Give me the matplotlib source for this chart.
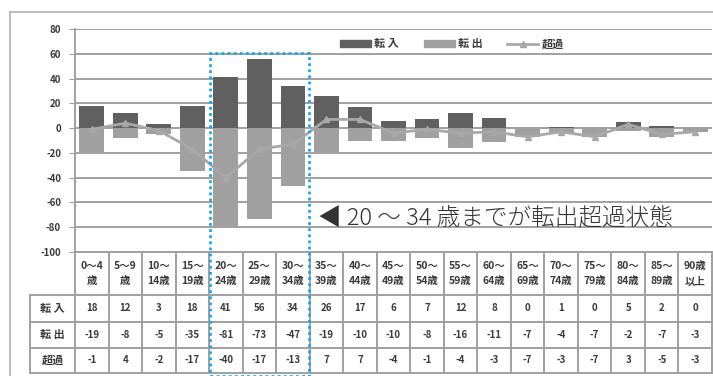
import matplotlib
matplotlib.use("Agg")
import matplotlib.pyplot as plt
from matplotlib.patches import Rectangle, Patch
from matplotlib.lines import Line2D

plt.rcParams['font.family'] = ['Noto Sans CJK JP', 'DejaVu Sans']

categories = ["0～4\n歳", "5～9\n歳", "10～\n14歳", "15～\n19歳", "20～\n24歳", "25～\n29歳",
              "30～\n34歳", "35～\n39歳", "40～\n44歳", "45～\n49歳", "50～\n54歳", "55～\n59歳",
              "60～\n64歳", "65～\n69歳", "70～\n74歳", "75～\n79歳", "80～\n84歳", "85～\n89歳",
              "90歳\n以上"]
tennyu = [18, 12, 3, 18, 41, 56, 34, 26, 17, 6, 7, 12, 8, 0, 1, 0, 5, 2, 0]
tenshutsu = [-19, -8, -5, -35, -81, -73, -47, -19, -10, -10, -8, -16, -11, -7, -4, -7, -2, -7, -3]
choka = [-1, 4, -2, -17, -40, -17, -13, 7, 7, -4, -1, -4, -3, -7, -3, -7, 3, -5, -3]
row_labels = ["転 入", "転 出", "超過"]
yticks = [80, 60, 40, 20, 0, -20, -40, -60, -80, -100]

W, H = 713, 376
fig = plt.figure(figsize=(W / 100, H / 100), dpi=100)

def fx(px):
    return px / W

def fy(py):
    return 1 - py / H

GRID = "#a0a0a0"
DARK = "#606060"
LIGHT = "#a0a0a0"
LINEC = "#a8a8a8"
TXT = "#3a3a3a"

# outer frame
fig.add_artist(Line2D([fx(10), 1], [fy(12), fy(12)], color="#b0b0b0", lw=1.2, transform=fig.transFigure))
fig.add_artist(Line2D([fx(10), fx(10)], [fy(12), 0], color="#b0b0b0", lw=1.2, transform=fig.transFigure))

left, right = 75, 712
top, bot = 29, 252
ax = fig.add_axes([fx(left), fy(bot), fx(right) - fx(left), fy(top) - fy(bot)])
n = len(categories)
x = list(range(n))
ax.set_xlim(-0.5, n - 0.5)
ax.set_ylim(-100, 80)
for v in yticks:
    ax.axhline(v, color=GRID, lw=1.4, zorder=0)
ax.bar(x, tennyu, width=0.74, color=DARK, zorder=2)
ax.bar(x, tenshutsu, width=0.74, color=LIGHT, zorder=2)
ax.plot(x, choka, color=LINEC, lw=2, marker="^", ms=5, zorder=3)
ax.set_yticks(yticks)
ax.set_yticklabels([str(v) for v in yticks], fontsize=7, color=TXT, fontweight="bold")
ax.tick_params(axis="y", length=4, color=GRID, pad=6)
ax.set_xticks([])
for s in ["top", "right", "bottom"]:
    ax.spines[s].set_visible(False)
ax.spines["left"].set_color(GRID)
ax.spines["left"].set_linewidth(1.4)

# legend
handles = [Patch(color=DARK), Patch(color=LIGHT),
           Line2D([], [], color=LINEC, lw=2, marker="^", ms=5)]
fig.legend(handles, ["転 入", "転 出", "超過"], loc="center left",
           bbox_to_anchor=(fx(330), fy(44)), ncol=3, frameon=False,
           handlelength=2.8, handleheight=0.6, columnspacing=2.2, handletextpad=0.3,
           labelcolor=TXT, prop={'weight': 'bold', 'size': 8})

# table
tleft, tbot = 30, 373
colw = (right - left) / n
tax = fig.add_axes([fx(tleft), fy(tbot), fx(right) - fx(tleft), fy(bot) - fy(tbot)])
tax.set_xlim(-0.5 - (left - tleft) / colw, n - 0.5)
tax.set_ylim(tbot, bot)
tax.axis("off")
rows_y = [252, 295, 322, 348, 373]
x0 = -0.5 - (left - tleft) / colw
for i, yy in enumerate(rows_y):
    xs = -0.5 if i == 0 else x0
    tax.plot([xs, n - 0.5], [yy, yy], color=GRID, lw=1.4, clip_on=False)
for k in range(n + 1):
    tax.plot([k - 0.5, k - 0.5], [252, 373], color=GRID, lw=1.4, clip_on=False)
tax.plot([x0, x0], [295, 373], color=GRID, lw=1.4, clip_on=False)
for k, c in enumerate(categories):
    tax.text(k, 273.5, c, ha="center", va="center", fontsize=7.5, color=TXT,
             linespacing=1.7, fontweight="bold")
for r, (lab, vals) in enumerate(zip(row_labels, [tennyu, tenshutsu, choka])):
    yc = (rows_y[r + 1] + rows_y[r + 2]) / 2
    tax.text((x0 - 0.5) / 2, yc, lab, ha="center", va="center", fontsize=8, color=TXT,
             fontweight="bold")
    for k, v in enumerate(vals):
        tax.text(k, yc, str(v), ha="center", va="center", fontsize=7, color=TXT,
                 fontweight="bold")

# highlight box
fig.add_artist(Rectangle((fx(210), fy(376)), fx(309) - fx(210), fy(53) - fy(376),
                         fill=False, ec="#1ea5e6", lw=2, ls=(0, (1, 1.2)),
                         transform=fig.transFigure, clip_on=False, zorder=10))

# annotation
fig.text(fx(318), fy(218), "◀ 20 ～ 34 歳までが転出超過状態", ha="left", va="center",
         fontsize=17, color="#333333", fontweight="light",
         family=['Noto Sans CJK JP', 'DejaVu Sans'])

fig.savefig("out.png", dpi=100)
